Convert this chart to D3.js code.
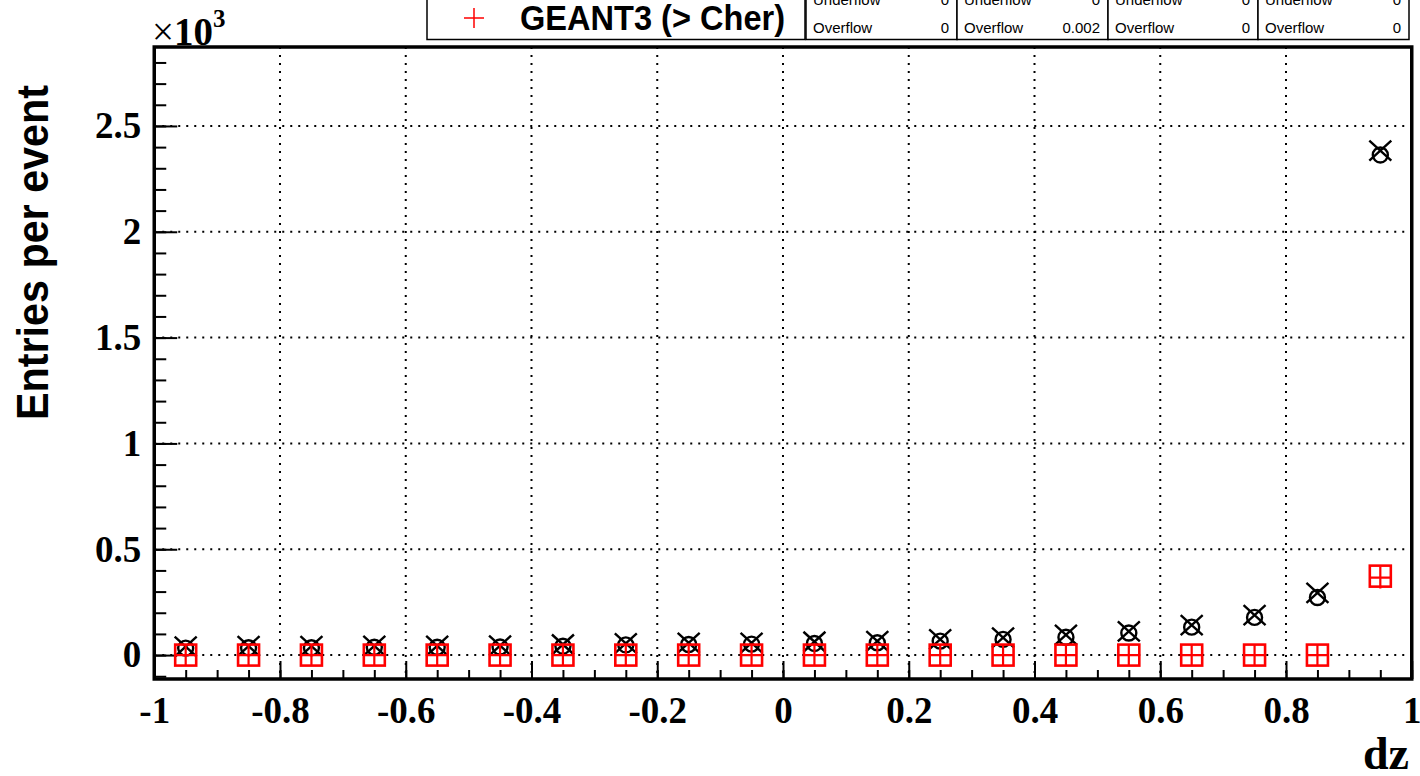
<!DOCTYPE html>
<html>

<head>
    <meta charset="utf-8">
    <style>
        body {
            margin: 0;
            background: #fff;
        }

        svg {
            display: block;
        }

        .tick text {
            font-family: 'Liberation Serif', 'Times New Roman', serif;
            font-weight: bold;
            font-size: 37px;
            fill: #000;
        }

        .tick line {
            stroke: #000;
            stroke-width: 2;
        }

        .domain {
            display: none;
        }

        .grid line {
            stroke: #000;
            stroke-width: 2;
            stroke-dasharray: 2, 6;
        }

        .stat text {
            font-family: 'Liberation Sans', Arial, sans-serif;
            font-size: 15px;
            fill: #000;
        }
    </style>
</head>

<body>
    <svg width="1420" height="776"></svg>
</body>

<script src="https://d3js.org/d3.v7.min.js"></script>

<script>
    // bin centres of the dz histogram (20 bins from -1 to 1)
    let binCenters = [-0.95, -0.85, -0.75, -0.65, -0.55, -0.45, -0.35, -0.25, -0.15, -0.05,
        0.05, 0.15, 0.25, 0.35, 0.45, 0.55, 0.65, 0.75, 0.85, 0.95]

    // entries per event
    let crossVals = [40, 42, 42, 44, 44, 45, 50, 55, 58, 58, 63, 66, 74, 82, 95, 112, 142, 189, 294, 2383]
    let circleVals = [33, 35, 35, 37, 37, 38, 42, 48, 50, 52, 55, 58, 66, 74, 84, 104, 132, 178, 272, 2363]
    let squareVals = [0, 0, 0, 0, 0, 0, 0, 0, 0, 0, 0, 0, 0, 0, 0, 0, 0, 0, 0, 373]
    let plusVals = [0, 0, 0, 0, 0, 0, 0, 0, 0, 0, 0, 0, 0, 0, 0, 0, 0, 0, 0, 366]

    let xMajorTicks = [-1, -0.8, -0.6, -0.4, -0.2, 0, 0.2, 0.4, 0.6, 0.8, 1]
    let yMajorTicks = [0, 500, 1000, 1500, 2000, 2500]

    let legendLabel = "GEANT3 (> Cher)"
    let statUnderflow = ["0", "0", "0", "0"]
    let statOverflow = ["0", "0.002", "0", "0"]

    let svg = d3.select("svg")

    let frame = { left: 154.25, right: 1411.75, top: 47, bottom: 679 }

    let x = d3.scaleLinear()
        .domain([-1, 1])
        .range([frame.left, frame.right])

    let y = d3.scaleLinear()
        .domain([-113, 2873])
        .range([frame.bottom, frame.top])

    // grid
    svg.append("g")
        .attr("class", "grid")
        .selectAll("line.v")
        .data(xMajorTicks.slice(1, -1))
        .join("line")
        .attr("x1", d => x(d))
        .attr("x2", d => x(d))
        .attr("y1", frame.top)
        .attr("y2", frame.bottom)

    svg.append("g")
        .attr("class", "grid")
        .selectAll("line")
        .data(yMajorTicks)
        .join("line")
        .attr("x1", frame.left)
        .attr("x2", frame.right)
        .attr("y1", d => y(d))
        .attr("y2", d => y(d))

    // axes, ROOT style ticks pointing inside
    let xMinor = d3.range(-20, 21).map(i => i * 0.05)
    svg.append("g")
        .attr("transform", `translate(0, ${frame.bottom})`)
        .call(d3.axisBottom(x).tickValues(xMinor).tickSize(-9).tickFormat(""))

    svg.append("g")
        .attr("class", "x axis")
        .attr("transform", `translate(0, ${frame.bottom})`)
        .call(d3.axisBottom(x)
            .tickValues(xMajorTicks)
            .tickSize(-18)
            .tickPadding(18)
            .tickFormat(d3.format("")))

    let yMinor = d3.range(-1, 29).map(i => i * 100)
    svg.append("g")
        .attr("transform", `translate(${frame.left}, 0)`)
        .call(d3.axisLeft(y).tickValues(yMinor).tickSize(-12).tickFormat(""))

    svg.append("g")
        .attr("class", "y axis")
        .attr("transform", `translate(${frame.left}, 0)`)
        .call(d3.axisLeft(y)
            .tickValues(yMajorTicks)
            .tickSize(-23)
            .tickPadding(13)
            .tickFormat(d => d3.format("")(d / 1000)))

    svg.selectAll(".x.axis .tick text").text(d => d == 0 ? "0" : d3.format("")(d).replace("−", "-"))

    // markers
    let pts = (vals) => binCenters.map((c, i) => ({ x: c, v: vals[i] }))

    svg.append("g")
        .selectAll("path")
        .data(pts(crossVals))
        .join("path")
        .attr("transform", d => `translate(${x(d.x)}, ${y(d.v)})`)
        .attr("d", "M-11,-10L11,10M-11,10L11,-10")
        .attr("stroke", "#000")
        .attr("stroke-width", 2.4)
        .attr("fill", "none")

    svg.append("g")
        .selectAll("circle")
        .data(pts(circleVals))
        .join("circle")
        .attr("cx", d => x(d.x))
        .attr("cy", d => y(d.v))
        .attr("r", 7.5)
        .attr("stroke", "#000")
        .attr("stroke-width", 2.4)
        .attr("fill", "none")

    svg.append("g")
        .selectAll("rect")
        .data(pts(squareVals))
        .join("rect")
        .attr("x", d => x(d.x) - 10.5)
        .attr("y", d => y(d.v) - 10.5)
        .attr("width", 21)
        .attr("height", 21)
        .attr("stroke", "#f00")
        .attr("stroke-width", 2.6)
        .attr("fill", "none")

    svg.append("g")
        .selectAll("path")
        .data(pts(plusVals))
        .join("path")
        .attr("transform", d => `translate(${x(d.x)}, ${y(d.v)})`)
        .attr("d", "M-10,0L10,0M0,-11L0,11")
        .attr("stroke", "#f00")
        .attr("stroke-width", 2.2)

    // frame
    svg.append("rect")
        .attr("x", frame.left)
        .attr("y", frame.top)
        .attr("width", frame.right - frame.left)
        .attr("height", frame.bottom - frame.top)
        .attr("fill", "none")
        .attr("stroke", "#000")
        .attr("stroke-width", 3.5)

    // x10^3
    let expo = svg.append("text")
        .attr("x", 152)
        .attr("y", 45)
        .style("font-family", "'Liberation Serif', serif")
        .style("font-size", "39px")
    expo.append("tspan").text("×")
    expo.append("tspan").style("font-weight", "bold").text("10")
    expo.append("tspan").style("font-weight", "bold").style("font-size", "25px").attr("dy", -18).text("3")

    // axis titles
    svg.append("text")
        .attr("transform", "translate(48, 85) rotate(-90)")
        .attr("text-anchor", "end")
        .attr("textLength", 335)
        .attr("lengthAdjust", "spacingAndGlyphs")
        .style("font-family", "'Liberation Sans', Arial, sans-serif")
        .style("font-weight", "bold")
        .style("font-size", "45px")
        .text("Entries per event")

    svg.append("text")
        .attr("x", 1409)
        .attr("y", 769)
        .attr("text-anchor", "end")
        .style("font-family", "'Liberation Serif', serif")
        .style("font-weight", "bold")
        .style("font-size", "46px")
        .text("dz")

    // legend (top rows cut off by the canvas)
    svg.append("rect")
        .attr("x", 427)
        .attr("y", -40)
        .attr("width", 378)
        .attr("height", 79.5)
        .attr("fill", "#fff")
        .attr("stroke", "#000")
        .attr("stroke-width", 1.5)

    svg.append("path")
        .attr("d", "M464,18L484,18M474,8L474,28")
        .attr("stroke", "#f00")
        .attr("stroke-width", 1.5)

    svg.append("text")
        .attr("x", 520)
        .attr("y", 30)
        .attr("textLength", 265)
        .attr("lengthAdjust", "spacingAndGlyphs")
        .style("font-family", "'Liberation Sans', Arial, sans-serif")
        .style("font-weight", "bold")
        .style("font-size", "35px")
        .text(legendLabel)

    // stat boxes
    let statX = [806, 957, 1108, 1258]
    let stat = svg.append("g")
        .attr("class", "stat")
        .selectAll("g")
        .data(statX)
        .join("g")
        .attr("transform", d => `translate(${d}, 0)`)

    stat.append("rect")
        .attr("x", 0)
        .attr("y", -40)
        .attr("width", (d, i) => i < 3 ? statX[i + 1] - d : 1409 - d)
        .attr("height", 79.5)
        .attr("fill", "#fff")
        .attr("stroke", "#000")
        .attr("stroke-width", 1.5)

    stat.append("text").attr("x", 7).attr("y", 5).text("Underflow")
    stat.append("text").attr("x", 7).attr("y", 33).text("Overflow")
    stat.append("text")
        .attr("x", (d, i) => (i < 3 ? statX[i + 1] - d : 1409 - d) - 8)
        .attr("y", 5)
        .attr("text-anchor", "end")
        .text((d, i) => statUnderflow[i])
    stat.append("text")
        .attr("x", (d, i) => (i < 3 ? statX[i + 1] - d : 1409 - d) - 8)
        .attr("y", 33)
        .attr("text-anchor", "end")
        .text((d, i) => statOverflow[i])
</script>

</html>
